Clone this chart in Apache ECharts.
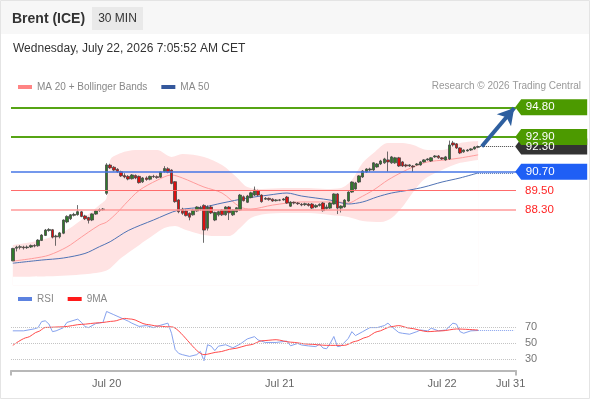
<!DOCTYPE html>
<html>
<head>
<meta charset="utf-8">
<title>Brent (ICE) 30 MIN</title>
<script src="https://cdn.jsdelivr.net/npm/echarts@6.0.0/dist/echarts.min.js"></script>
<style>
  html, body { margin: 0; padding: 0; background: #fff; }
  #main { width: 590px; height: 400px; }
</style>
</head>
<body>
<div id="main"></div>
<script>
// 30 min slots on the time axis (130 candles + empty room on the right)
var slotCount = 140;
var slots = [];
for (var s = 0; s < slotCount; s++) slots.push(s);

var tickSlots = [26, 74, 119, 138];
var tickLabels = ['Jul 20', 'Jul 21', 'Jul 22', 'Jul 31'];

// [open, close, low, high]
var candles = [
  [85.02,85.81,85.00,85.85],[85.83,85.89,85.62,85.98],[85.88,85.92,85.75,86.02],[85.90,85.85,85.74,85.98],
  [85.86,85.90,85.78,86.00],[85.90,86.00,85.84,86.06],[86.00,85.96,85.88,86.08],[85.98,86.34,85.92,86.40],
  [86.32,86.66,86.28,86.72],[86.64,86.98,86.60,87.05],[86.95,87.02,86.88,87.10],[87.00,86.53,86.45,87.05],
  [86.55,86.60,85.98,86.68],[86.55,86.80,86.45,86.86],[86.78,87.62,86.72,87.66],[87.50,87.85,87.42,87.92],
  [87.70,87.95,87.62,88.00],[87.92,87.98,87.85,88.08],[87.96,88.15,87.90,88.57],[88.14,87.85,87.80,88.20],
  [87.88,87.70,87.62,87.95],[87.78,87.60,87.40,87.82],[87.62,88.01,87.55,88.05],[88.00,88.20,87.95,88.25],
  [88.22,88.28,88.15,88.35],[88.28,88.32,88.22,88.38],[89.32,91.13,89.22,91.24],[91.12,90.94,90.88,91.20],
  [90.98,90.80,90.72,91.05],[90.85,90.70,90.62,90.92],[90.70,90.43,90.36,90.76],[90.45,90.36,90.28,90.60],
  [90.40,90.23,90.15,90.48],[90.25,90.49,90.20,90.55],[90.46,90.30,90.22,90.52],[90.40,90.00,89.94,90.45],
  [90.05,90.30,89.98,90.36],[90.30,90.20,90.12,90.40],[90.22,90.40,90.15,90.45],[90.40,90.38,90.30,90.50],
  [90.38,90.32,90.25,90.46],[90.35,90.68,90.30,90.72],[90.70,90.90,90.64,91.05],[90.88,90.66,90.60,90.98],
  [90.80,89.95,89.90,90.85],[90.06,88.79,88.72,90.10],[88.90,88.15,88.05,88.95],[88.30,88.05,87.95,88.40],
  [88.20,87.90,87.85,88.30],[88.05,87.80,87.60,88.10],[87.95,88.25,87.90,88.30],[88.20,88.45,88.15,88.50],
  [88.30,88.40,88.22,88.52],[88.55,86.98,86.17,88.62],[87.10,88.45,86.95,88.55],[88.45,88.07,88.00,88.55],
  [87.62,88.10,87.55,88.15],[87.95,88.15,87.85,88.22],[88.25,87.95,87.88,88.30],[87.95,88.45,87.90,88.50],
  [88.45,88.08,87.62,88.50],[87.95,88.26,87.88,88.30],[88.15,88.40,88.10,88.45],[88.26,89.21,88.20,89.28],
  [89.10,88.85,88.80,89.18],[88.75,89.15,88.70,89.22],[89.05,89.35,89.00,89.42],[89.21,89.53,89.15,89.75],
  [89.50,89.21,89.15,89.55],[89.21,88.79,88.72,89.25],[88.95,89.00,88.90,89.08],[89.00,88.92,88.85,89.05],
  [88.95,88.83,88.78,89.00],[88.85,88.90,88.80,88.95],[88.90,88.88,88.82,88.96],[88.90,88.96,88.85,89.02],
  [89.08,88.70,88.65,89.15],[88.50,88.76,88.45,88.82],[88.75,88.70,88.62,88.80],[88.70,88.66,88.58,88.76],
  [88.62,88.58,88.50,88.70],[88.60,88.66,88.52,88.72],[88.64,88.55,88.48,88.70],[88.64,88.38,88.32,88.70],
  [88.45,88.55,88.38,88.62],[88.55,88.62,88.48,88.68],[88.70,88.22,88.15,88.76],[88.35,88.45,88.28,88.60],
  [88.38,88.70,88.32,88.75],[88.64,89.28,88.60,89.32],[89.28,88.38,88.00,89.33],[88.38,88.51,88.10,88.56],
  [88.45,88.89,88.40,88.95],[88.83,89.40,88.78,89.45],[89.40,90.04,89.35,90.08],[89.60,89.98,89.55,90.05],
  [90.04,90.43,89.98,90.48],[90.36,90.74,90.30,90.80],[90.68,90.87,90.62,90.92],[90.81,90.87,90.70,90.95],
  [90.81,91.26,90.75,91.30],[91.00,91.19,90.95,91.25],[91.19,91.38,91.12,91.45],[91.26,91.51,91.20,91.58],
  [91.45,91.32,90.70,91.98],[91.26,91.64,91.20,91.70],[91.26,91.58,91.20,91.64],[91.58,91.06,91.00,91.64],
  [91.32,91.06,91.00,91.38],[91.13,91.06,90.98,91.20],[91.06,91.13,91.00,91.18],[91.06,91.00,90.68,91.12],
  [91.13,91.19,91.08,91.25],[91.13,91.32,91.08,91.38],[91.32,91.45,91.28,91.50],[91.45,91.51,91.40,91.56],
  [91.38,91.58,91.32,91.62],[91.64,91.70,91.58,91.76],[91.70,91.58,91.52,91.76],[91.58,91.51,91.45,91.62],
  [91.45,91.64,91.40,91.70],[91.51,92.40,91.45,92.68],[92.53,92.40,92.30,92.66],[92.47,92.21,92.15,92.52],
  [92.21,91.89,91.82,92.25],[91.96,92.08,91.90,92.12],[92.02,92.08,91.98,92.14],[92.08,92.15,92.02,92.20],
  [92.15,92.27,92.10,92.32],[92.25,92.30,92.20,92.36]
];

// [slot, value]
var ma20 = [[0,85.00],[6,85.19],[10,85.38],[15,85.90],[19,86.53],[21,86.85],[24,87.30],[26,87.49],[29,88.10],
  [31,88.60],[35,89.50],[40,90.15],[44,90.49],[47,90.30],[53,89.72],[58,89.34],[63,88.45],[66,88.32],[72,88.57],
  [80,88.77],[90,88.77],[93,88.70],[96,89.02],[100,89.53],[104,90.17],[108,90.68],[111,91.00],[115,91.32],
  [120,91.45],[124,91.57],[129,91.77]];
var ma50 = [[0,84.87],[8,85.07],[14,85.20],[20,85.49],[24,85.92],[27,86.24],[32,86.95],[39,87.62],[46,88.26],
  [53,88.45],[58,88.70],[65,89.02],[71,89.21],[76,89.34],[80,89.15],[88,88.89],[93,88.64],[97,88.77],[101,89.09],
  [105,89.34],[110,89.53],[114,89.72],[119,90.04],[124,90.30],[129,90.62]];
var bbUpper = [[0,86.02],[8,86.34],[14,86.85],[19,87.62],[24,88.57],[26,89.02],[27,91.45],[30,91.89],[34,92.08],
  [40,92.08],[44,91.64],[47,91.83],[53,91.64],[58,91.13],[62,90.36],[65,89.72],[69,89.60],[75,89.66],[82,89.66],
  [87,89.60],[91,89.66],[94,90.17],[97,91.26],[100,91.89],[104,92.53],[108,92.53],[111,92.40],[115,92.08],
  [119,92.08],[124,92.53],[129,92.66]];
var bbLower = [[0,84.00],[10,84.04],[20,84.17],[26,84.40],[30,85.20],[35,86.02],[39,86.66],[42,87.11],[45,87.24],
  [48,86.98],[52,86.72],[56,86.60],[60,86.60],[63,87.11],[66,87.75],[70,88.00],[76,88.06],[82,88.06],[88,87.94],
  [93,87.81],[97,87.55],[102,87.49],[105,87.75],[108,88.45],[110,89.09],[113,89.98],[115,90.36],[119,90.81],
  [124,91.26],[129,91.45]];

var rsi = [[0,65],[3,65],[6,67.5],[7,69],[8,76.5],[9,77.4],[10,73.5],[11,64],[12,65],[14,68.8],[15,75.4],[18,79.5],
  [19,75.6],[20,70.2],[21,69],[23,74],[25,75.5],[26,89],[28,85],[30,81],[32,77],[33,74.5],[35,70.5],[37,71.5],
  [39,69],[41,72],[43,74.5],[44,62],[45,42],[46,37],[47,35.5],[49,33.3],[51,35.5],[52,39.5],[53,28],[54,47.8],
  [55,46],[56,40.5],[57,46],[59,47.8],[61,44],[63,48.5],[65,55],[67,57.8],[68,53.7],[70,50.6],[73,50.6],[76,52.3],
  [77,46.5],[79,49.4],[80,47.5],[82,46.3],[84,45.5],[85,48.5],[86,43.7],[87,42.8],[88,49.4],[89,58],[90,45.5],
  [91,46.3],[93,55.6],[94,64],[95,59.1],[97,64],[99,69],[101,69],[103,71.5],[104,74.5],[105,70.3],[107,62.9],
  [108,62],[110,60.8],[112,64],[113,66],[115,65],[116,68.3],[118,65],[120,66],[122,74.5],[123,73.3],[124,64],
  [125,62],[127,65],[129,65.4]];
var rsi9ma = [[0,47],[4,56.8],[7,64],[9,69.2],[14,70],[19,73],[24,75],[28,77],[31,80.4],[33,79.5],[37,73],[40,71],
  [43,70],[44,70],[53,35.5],[57,38.8],[61,42.8],[66,47.8],[69,52.7],[73,54],[77,51],[82,48.5],[87,47],[92,47],
  [95,52],[98,57],[101,64],[105,70.3],[107,71.5],[110,68.3],[115,64],[119,65],[123,67.3],[129,66]];

var resistances = [94.80, 92.90];
var pivot = 90.70;
var supports = [89.50, 88.30];
var lastPrice = 92.30;
var rsiLevels = [70, 50, 30];

var FONT = '"Liberation Sans", Arial, sans-serif';
var lastSlot = candles.length - 1;
var edgeSlot = slotCount - 1;
var tagPath = 'path://M0,8L6,0L72,0L72,16L6,16Z';
var axisGrey = '#b8b8b8';

function tag(value, color) {
  return { coord: [edgeSlot, value], value: value.toFixed(2), itemStyle: { color: color } };
}

var chart = echarts.init(document.getElementById('main'));
chart.setOption({
  animation: false,
  backgroundColor: '#fff',
  textStyle: { fontFamily: FONT },
  graphic: [
    { type: 'rect', z: -10, shape: { x: 0.5, y: 0.5, width: 589, height: 398 },
      style: { fill: '#fff', stroke: '#e4e4e4', lineWidth: 1 } },
    { type: 'rect', z: -9, shape: { x: 1, y: 1, width: 588, height: 33 }, style: { fill: '#f7f7f7' } },
    { type: 'rect', z: -8, shape: { x: 92, y: 7, width: 51, height: 23 }, style: { fill: '#e9e9e9' } },
    { type: 'text', style: { text: 'Brent (ICE)', x: 12, y: 19, fill: '#333', fontSize: 14, fontWeight: 'bold',
      fontFamily: FONT, verticalAlign: 'middle' } },
    { type: 'text', style: { text: '30 MIN', x: 117.5, y: 19, fill: '#333', fontSize: 12, fontFamily: FONT,
      align: 'center', verticalAlign: 'middle' } },
    { type: 'text', style: { text: 'Wednesday, July 22, 2026 7:05:52 AM CET', x: 13, y: 49, fill: '#333',
      fontSize: 12, fontFamily: FONT, verticalAlign: 'middle' } },
    { type: 'text', style: { text: 'Research \u00a9 2026 Trading Central', x: 581, y: 86, fill: '#999',
      fontSize: 10, fontFamily: FONT, align: 'right', verticalAlign: 'middle' } }
  ],
  legend: [
    { data: ['MA 20 + Bollinger Bands', 'MA 50'], left: 13, top: 77, icon: 'rect', itemWidth: 14, itemHeight: 4,
      itemGap: 14, selectedMode: false, textStyle: { color: '#888', fontSize: 10, fontFamily: FONT } },
    { data: ['RSI', '9MA'], left: 13, top: 289, icon: 'rect', itemWidth: 14, itemHeight: 4,
      itemGap: 14, selectedMode: false, textStyle: { color: '#888', fontSize: 10, fontFamily: FONT } }
  ],
  grid: [
    { left: 11, right: 74, top: 95.5, height: 190 },
    { left: 11, right: 74, top: 305, height: 65.4 }
  ],
  xAxis: [
    { type: 'category', gridIndex: 0, data: slots, boundaryGap: true, show: false },
    { type: 'category', gridIndex: 1, position: 'bottom', data: slots, boundaryGap: true,
      axisLine: { show: false, onZero: false },
      axisTick: { show: false },
      axisLabel: { color: '#666', fontSize: 11, margin: 8, fontFamily: FONT,
        interval: function (i) { return tickSlots.indexOf(i) >= 0; },
        formatter: function (v, i) { return tickLabels[tickSlots.indexOf(i)]; } } },
    // plain frame for the time axis: line with a tick at each end
    { type: 'value', gridIndex: 1, position: 'bottom', min: 0, max: 1, interval: 1, show: true,
      axisLine: { show: true, onZero: false, lineStyle: { color: axisGrey, width: 2 } },
      axisTick: { show: true, length: 5, lineStyle: { color: axisGrey, width: 2 } },
      axisLabel: { show: false }, splitLine: { show: false } }
  ],
  yAxis: [
    { type: 'value', gridIndex: 0, min: 83.45, max: 95.55, show: false, splitLine: { show: false } },
    { type: 'value', gridIndex: 1, min: 16, max: 97, show: false, splitLine: { show: false } }
  ],
  series: [
    { name: 'bbUp', type: 'line', z: 1, data: bbUpper, smooth: 0.3, symbol: 'none', silent: true,
      lineStyle: { width: 0 }, areaStyle: { color: '#ffe3e3', opacity: 1, origin: 'start' } },
    { name: 'bbLow', type: 'line', z: 1, data: bbLower, smooth: 0.3, symbol: 'none', silent: true,
      lineStyle: { width: 0 }, areaStyle: { color: '#ffffff', opacity: 1, origin: 'start' } },
    { name: 'MA 20 + Bollinger Bands', type: 'line', z: 2, data: ma20, smooth: 0.3, symbol: 'none', color: '#ff8484',
      lineStyle: { width: 1, color: '#ff9c9c' } },
    { name: 'MA 50', type: 'line', z: 2, data: ma50, smooth: 0.3, symbol: 'none', color: '#34589c',
      lineStyle: { width: 1, color: '#5073b5' },
      markLine: { silent: true, symbol: ['none', 'none'], label: { show: false },
        lineStyle: { type: 'dotted', color: '#5073b5', width: 1 },
        data: [[{ coord: [lastSlot, ma50[ma50.length - 1][1]] }, { coord: [edgeSlot, ma50[ma50.length - 1][1]] }]] } },
    { name: 'Brent', type: 'candlestick', z: 3, data: candles, barWidth: 3,
      itemStyle: { color: '#2f7a2a', color0: '#dd0f0f', borderColor: '#474747', borderColor0: '#474747', borderWidth: 0.8 },
      markLine: { silent: true, symbol: ['none', 'none'], label: { show: false },
        data: [
          { yAxis: resistances[0], lineStyle: { color: '#56a414', width: 2, type: 'solid' } },
          { yAxis: resistances[1], lineStyle: { color: '#56a414', width: 2, type: 'solid' } },
          { yAxis: pivot, lineStyle: { color: '#4676e6', width: 1.5, type: 'solid' } },
          { yAxis: supports[0], lineStyle: { color: '#ff6b6b', width: 1, type: 'solid' },
            label: { show: true, position: 'end', distance: 9, color: '#ff2424', fontSize: 11.5,
              fontFamily: FONT, formatter: supports[0].toFixed(2) } },
          { yAxis: supports[1], lineStyle: { color: '#ff9a9a', width: 1.5, type: 'solid' },
            label: { show: true, position: 'end', distance: 9, color: '#ff2424', fontSize: 11.5,
              fontFamily: FONT, formatter: supports[1].toFixed(2) } },
          [{ coord: [lastSlot, lastPrice], lineStyle: { color: '#444', width: 1, type: 'dotted' } },
           { coord: [edgeSlot, lastPrice] }],
          [{ coord: [lastSlot + 1, lastPrice], symbol: 'none',
             lineStyle: { color: '#2e5f9f', width: 4, type: 'solid' } },
           { coord: [edgeSlot, resistances[0] - 0.05], symbol: 'arrow', symbolSize: [14, 16] }]
        ] },
      markPoint: { silent: true, symbol: tagPath, symbolSize: [72, 16], symbolOffset: [37, 0],
        label: { show: true, position: 'inside', offset: [-11, 0], color: '#fff', fontSize: 11.5, fontFamily: FONT,
          formatter: function (p) { return p.data.value; } },
        data: [
          tag(lastPrice, '#333333'),
          tag(resistances[0], '#4c9a00'),
          tag(resistances[1], '#4c9a00'),
          tag(pivot, '#1f5ff5')
        ] } },
    { name: 'RSI', type: 'line', xAxisIndex: 1, yAxisIndex: 1, data: rsi, symbol: 'none', color: '#5c82e0',
      lineStyle: { width: 1, color: '#86a2ee' },
      markLine: { silent: true, symbol: ['none', 'none'],
        data: rsiLevels.map(function (v) {
          return { yAxis: v, lineStyle: { color: '#c4c4c4', width: 1, type: 'dotted' },
            label: { show: true, position: 'end', distance: 9, color: '#777', fontSize: 11, fontFamily: FONT,
              formatter: String(v) } };
        }).concat([[
          { coord: [lastSlot, rsi[rsi.length - 1][1]], lineStyle: { color: '#86a2ee', width: 1, type: 'dotted' },
            label: { show: false } },
          { coord: [edgeSlot, rsi[rsi.length - 1][1]] }
        ]]) } },
    { name: '9MA', type: 'line', xAxisIndex: 1, yAxisIndex: 1, data: rsi9ma, smooth: 0.25, smoothMonotone: 'x',
      symbol: 'none', color: '#ff1a1a', lineStyle: { width: 1, color: '#ff4a4a' } }
  ]
});
</script>
</body>
</html>
